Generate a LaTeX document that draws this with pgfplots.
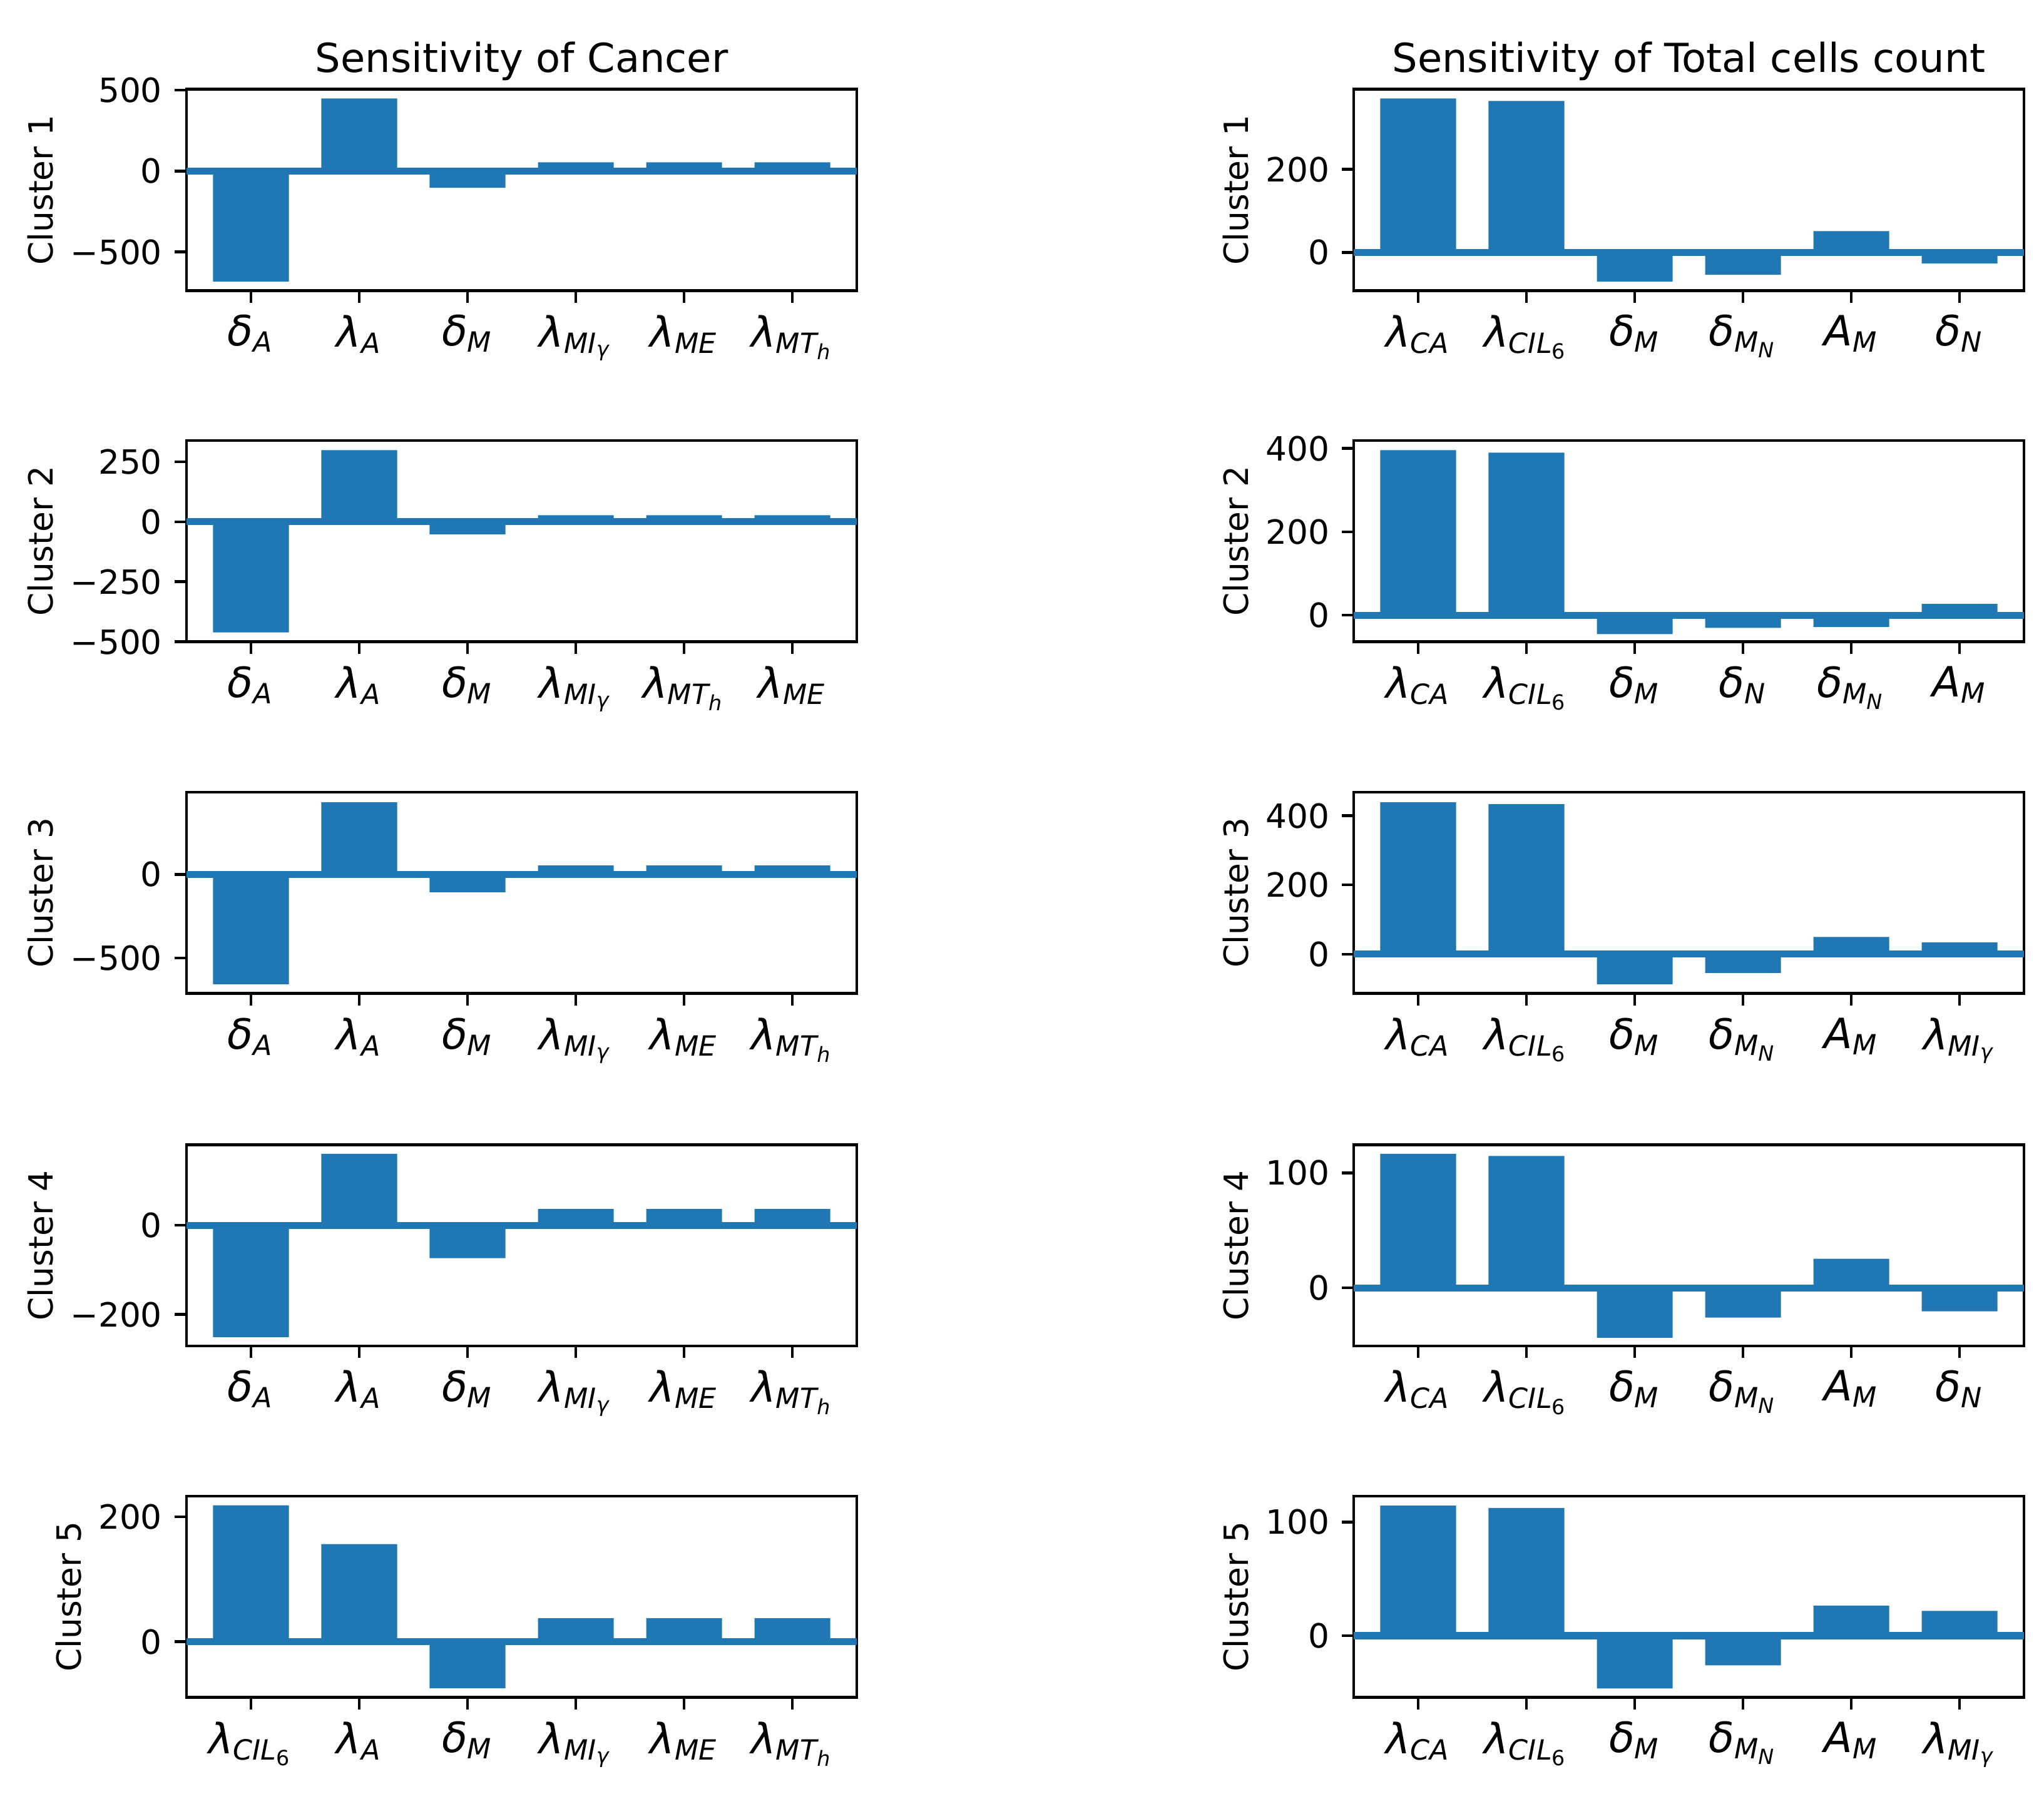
\documentclass[border=0pt]{standalone}
\usepackage{fontspec}
\setmainfont{DejaVu Sans}
\usepackage{amsmath}
\usepackage{pgfplots}
\pgfplotsset{compat=1.18}
\definecolor{c0}{RGB}{31,119,180}
\newcommand\s[1]{\text{\itshape #1}}
\newcommand\lbl[2]{\textit{#1}$_{#2}$}

\pgfplotsset{
  panel/.style={
    scale only axis, width=192.8pt, height=57.9pt, anchor=north west,
    xmin=-0.595, xmax=5.595, xtick={0,1,2,3,4,5},
    axis line style={line width=0.8pt},
    every tick/.style={line width=0.8pt, black},
    major tick length=3.5pt, tick align=outside,
    xtick pos=left, ytick pos=left,
    xticklabel style={font=\fontsize{12}{14}\selectfont},
    yticklabel style={font=\fontsize{9.6}{11}\selectfont},
    ylabel style={font=\fontsize{9.6}{11}\selectfont},
    ylabel shift=-2pt,
    title style={font=\fontsize{11.5}{13}\selectfont, yshift=-7pt},
  },
  bars/.style={ybar, bar width=0.7, fill=c0, draw=none},
  zero/.style={c0, line width=2pt, forget plot},
}

\begin{document}
\begin{tikzpicture}
\path[use as bounding box] (0,0) rectangle (587.88pt,-515.88pt);

% left column: Cancer
\begin{axis}[panel, at={(53.64pt,-25.69pt)},
  title={Sensitivity of Cancer}, ylabel={Cluster 1},
  ymin=-739, ymax=506, ytick={-500,0,500}, yticklabels={−500,0,500},
  xticklabels={\lbl{δ}{\s{A}},\lbl{λ}{\s{A}},\lbl{δ}{\s{M}},\lbl{λ}{\s{MI}_{\s{γ}}},\lbl{λ}{\s{ME}},\lbl{λ}{\s{MT}_{\s{h}}}}]
\addplot[bars] coordinates {(0,-684) (1,449) (2,-103) (3,54) (4,54) (5,54)};
\addplot[zero] coordinates {(-0.595,0) (5.595,0)};
\end{axis}

\begin{axis}[panel, at={(53.64pt,-126.72pt)}, ylabel={Cluster 2},
  ymin=-500, ymax=338, ytick={-500,-250,0,250}, yticklabels={−500,−250,0,250},
  xticklabels={\lbl{δ}{\s{A}},\lbl{λ}{\s{A}},\lbl{δ}{\s{M}},\lbl{λ}{\s{MI}_{\s{γ}}},\lbl{λ}{\s{MT}_{\s{h}}},\lbl{λ}{\s{ME}}}]
\addplot[bars] coordinates {(0,-460.6) (1,298) (2,-52.7) (3,26.8) (4,26.8) (5,26.8)};
\addplot[zero] coordinates {(-0.595,0) (5.595,0)};
\end{axis}

\begin{axis}[panel, at={(53.64pt,-227.88pt)}, ylabel={Cluster 3},
  ymin=-713.4, ymax=492, ytick={-500,0}, yticklabels={−500,0},
  xticklabels={\lbl{δ}{\s{A}},\lbl{λ}{\s{A}},\lbl{δ}{\s{M}},\lbl{λ}{\s{MI}_{\s{γ}}},\lbl{λ}{\s{ME}},\lbl{λ}{\s{MT}_{\s{h}}}}]
\addplot[bars] coordinates {(0,-657.6) (1,431.8) (2,-106.7) (3,53.3) (4,53.3) (5,53.3)};
\addplot[zero] coordinates {(-0.595,0) (5.595,0)};
\end{axis}

\begin{axis}[panel, at={(53.64pt,-329.27pt)}, ylabel={Cluster 4},
  ymin=-270.7, ymax=181, ytick={-200,0}, yticklabels={−200,0},
  xticklabels={\lbl{δ}{\s{A}},\lbl{λ}{\s{A}},\lbl{δ}{\s{M}},\lbl{λ}{\s{MI}_{\s{γ}}},\lbl{λ}{\s{ME}},\lbl{λ}{\s{MT}_{\s{h}}}}]
\addplot[bars] coordinates {(0,-251) (1,160.7) (2,-73.5) (3,36.5) (4,36.5) (5,36.5)};
\addplot[zero] coordinates {(-0.595,0) (5.595,0)};
\end{axis}

\begin{axis}[panel, at={(53.64pt,-430.33pt)}, ylabel={Cluster 5},
  ymin=-88.9, ymax=233, ytick={0,200}, yticklabels={0,200},
  xticklabels={\lbl{λ}{\s{CIL}_{\text{6}}},\lbl{λ}{\s{A}},\lbl{δ}{\s{M}},\lbl{λ}{\s{MI}_{\s{γ}}},\lbl{λ}{\s{ME}},\lbl{λ}{\s{MT}_{\s{h}}}}]
\addplot[bars] coordinates {(0,218) (1,156.2) (2,-74.6) (3,37.5) (4,37.5) (5,37.5)};
\addplot[zero] coordinates {(-0.595,0) (5.595,0)};
\end{axis}

% right column: Total cells count
\begin{axis}[panel, at={(389.34pt,-25.69pt)},
  title={Sensitivity of Total cells count}, ylabel={Cluster 1},
  ymin=-92, ymax=393, ytick={0,200}, yticklabels={0,200},
  xticklabels={\lbl{λ}{\s{CA}},\lbl{λ}{\s{CIL}_{\text{6}}},\lbl{δ}{\s{M}},\lbl{δ}{\s{M}_{\s{N}}},\lbl{A}{\s{M}},\lbl{δ}{\s{N}}}]
\addplot[bars] coordinates {(0,370.9) (1,364.8) (2,-70.4) (3,-53.8) (4,51.3) (5,-26.6)};
\addplot[zero] coordinates {(-0.595,0) (5.595,0)};
\end{axis}

\begin{axis}[panel, at={(389.34pt,-126.72pt)}, ylabel={Cluster 2},
  ymin=-63.8, ymax=419, ytick={0,200,400}, yticklabels={0,200,400},
  xticklabels={\lbl{λ}{\s{CA}},\lbl{λ}{\s{CIL}_{\text{6}}},\lbl{δ}{\s{M}},\lbl{δ}{\s{N}},\lbl{δ}{\s{M}_{\s{N}}},\lbl{A}{\s{M}}}]
\addplot[bars] coordinates {(0,396) (1,390) (2,-45.2) (3,-30.2) (4,-28.6) (5,27.1)};
\addplot[zero] coordinates {(-0.595,0) (5.595,0)};
\end{axis}

\begin{axis}[panel, at={(389.34pt,-227.88pt)}, ylabel={Cluster 3},
  ymin=-113.8, ymax=468, ytick={0,200,400}, yticklabels={0,200,400},
  xticklabels={\lbl{λ}{\s{CA}},\lbl{λ}{\s{CIL}_{\text{6}}},\lbl{δ}{\s{M}},\lbl{δ}{\s{M}_{\s{N}}},\lbl{A}{\s{M}},\lbl{λ}{\s{MI}_{\s{γ}}}}]
\addplot[bars] coordinates {(0,438.9) (1,433.5) (2,-86.8) (3,-54.5) (4,49.7) (5,33.5)};
\addplot[zero] coordinates {(-0.595,0) (5.595,0)};
\end{axis}

\begin{axis}[panel, at={(389.34pt,-329.27pt)}, ylabel={Cluster 4},
  ymin=-50.6, ymax=124.6, ytick={0,100}, yticklabels={0,100},
  xticklabels={\lbl{λ}{\s{CA}},\lbl{λ}{\s{CIL}_{\text{6}}},\lbl{δ}{\s{M}},\lbl{δ}{\s{M}_{\s{N}}},\lbl{A}{\s{M}},\lbl{δ}{\s{N}}}]
\addplot[bars] coordinates {(0,116.6) (1,114.8) (2,-43.5) (3,-25.9) (4,25.3) (5,-20.4)};
\addplot[zero] coordinates {(-0.595,0) (5.595,0)};
\end{axis}

\begin{axis}[panel, at={(389.34pt,-430.33pt)}, ylabel={Cluster 5},
  ymin=-54.2, ymax=123, ytick={0,100}, yticklabels={0,100},
  xticklabels={\lbl{λ}{\s{CA}},\lbl{λ}{\s{CIL}_{\text{6}}},\lbl{δ}{\s{M}},\lbl{δ}{\s{M}_{\s{N}}},\lbl{A}{\s{M}},\lbl{λ}{\s{MI}_{\s{γ}}}}]
\addplot[bars] coordinates {(0,114.6) (1,112.4) (2,-46.4) (3,-26.1) (4,26.5) (5,21.9)};
\addplot[zero] coordinates {(-0.595,0) (5.595,0)};
\end{axis}
\end{tikzpicture}
\end{document}
